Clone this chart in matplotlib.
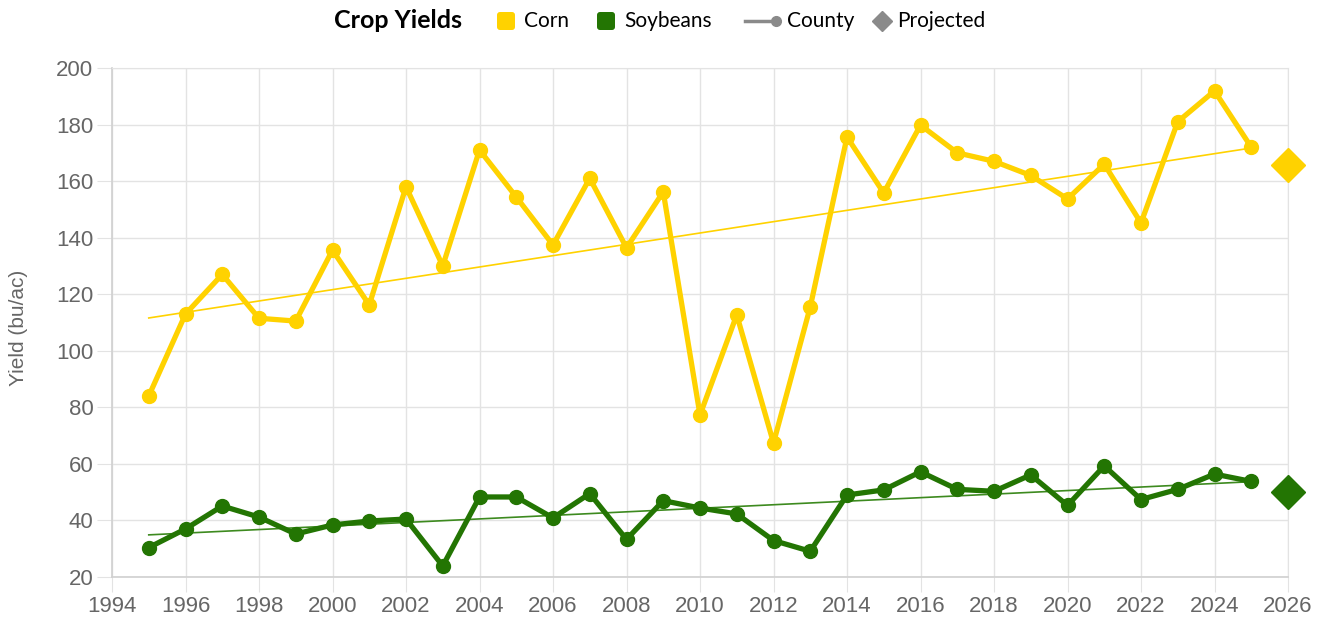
import matplotlib
matplotlib.use("Agg")
import matplotlib.pyplot as plt
from matplotlib.patches import FancyBboxPatch
from matplotlib.lines import Line2D

# yearly county yields (bu/ac)
years = list(range(1995, 2026))
corn = [84, 113, 127, 111.5, 110.5, 135.6, 116.2, 158, 130, 171,
        154.4, 137.4, 161, 136.4, 156.2, 77.3, 112.7, 67.4, 115.5, 175.6,
        155.8, 179.8, 170, 167, 162, 153.7, 166, 145.2, 181, 191.9, 172]
soybeans = [30.4, 37, 45.1, 41.2, 35.2, 38.4, 39.8, 40.5, 23.9, 48.3,
            48.3, 40.9, 49.5, 33.3, 47, 44.4, 42.3, 32.9, 29.1, 49,
            50.8, 57.2, 51, 50.3, 56.1, 45.3, 59.3, 47.4, 51, 56.4, 53.8]
proj_year = 2026
corn_proj = 165.7
soy_proj = 50.1
# trend line end points
trend_years = [1995, 2025]
corn_trend = [111.6, 171.7]
soy_trend = [34.9, 53.7]

CORN = "#FFD200"
SOY = "#237503"
GRID = "#e3e3e3"
TICK = "#666666"

fig = plt.figure(figsize=(13.3, 6.24), dpi=100)
ax = fig.add_axes([112 / 1330, 1 - 577 / 624, (1288 - 112) / 1330, (577 - 68) / 624])

ax.plot(trend_years, corn_trend, color=CORN, lw=1.2, zorder=3)
ax.plot(trend_years, soy_trend, color="#3d8a1f", lw=1.2, zorder=3)
ax.plot(years, corn, color=CORN, lw=3.8, marker="o", ms=10, zorder=4)
ax.plot(years, soybeans, color=SOY, lw=3.8, marker="o", ms=10, zorder=4)
ax.plot([proj_year], [corn_proj], marker="D", ms=17, color=CORN, ls="none",
        zorder=5, clip_on=False)
ax.plot([proj_year], [soy_proj], marker="D", ms=17, color=SOY, ls="none",
        zorder=5, clip_on=False)

ax.set_xlim(1994, 2026)
ax.set_ylim(20, 200)
ax.set_xticks(range(1994, 2027, 2))
ax.set_yticks(range(20, 201, 20))
ax.grid(True, color=GRID, lw=1)
ax.set_axisbelow(True)
for side in ["top", "right"]:
    ax.spines[side].set_color(GRID)
for side in ["left", "bottom"]:
    ax.spines[side].set_color("#d0d0d0")
    ax.spines[side].set_linewidth(1.2)
ax.tick_params(axis="both", length=10.5, color=GRID, labelcolor=TICK,
               labelsize=16, pad=3)
for lab in ax.get_xticklabels() + ax.get_yticklabels():
    lab.set_fontfamily("Liberation Sans")
ax.set_ylabel("Yield (bu/ac)", color=TICK, fontsize=15, family="Liberation Sans")
ax.yaxis.set_label_coords(-0.0715, 0.49)

# legend row drawn in pixel coordinates
lg = fig.add_axes([0, 0, 1, 1], zorder=10)
lg.set_xlim(0, 1330)
lg.set_ylim(624, 0)
lg.axis("off")
lg.text(334, 21, "Crop Yields", fontsize=18, fontweight="bold", family="Lato",
        va="center", ha="left", color="black")
for x0, col, name in [(497, CORN, "Corn"), (597, SOY, "Soybeans")]:
    lg.add_patch(FancyBboxPatch((x0, 12), 18, 18,
                                boxstyle="round,pad=0,rounding_size=3",
                                fc=col, ec="none"))
    lg.text(x0 + 27, 21, name, fontsize=15, family="Lato", va="center", ha="left")
lg.add_line(Line2D([745, 776], [21, 21], color="#8a8a8a", lw=2.5))
lg.plot([776], [21], marker="o", ms=7, color="#8a8a8a")
lg.text(787, 21, "County", fontsize=15, family="Lato", va="center", ha="left")
lg.plot([882], [21], marker="D", ms=10, color="#8a8a8a")
lg.text(897, 21, "Projected", fontsize=15, family="Lato", va="center", ha="left")

fig.savefig("out.png", dpi=100)
